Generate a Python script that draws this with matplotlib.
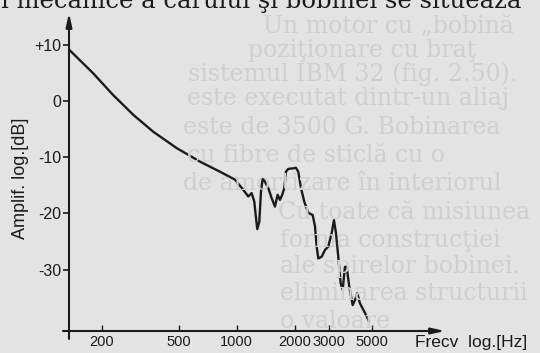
import matplotlib
matplotlib.use("Agg")
import matplotlib.pyplot as plt
from matplotlib.ticker import NullLocator

# --- valores (resposta em frequência) ---
freq_hz = [136, 180, 229, 291, 369, 488, 644, 818, 978, 1080,
           1147, 1194, 1232, 1253, 1277, 1308, 1335, 1362, 1400, 1456,
           1516, 1577, 1628, 1674, 1720, 1763, 1798, 1848, 1962, 2026,
           2083, 2151, 2237, 2347, 2474, 2543, 2594, 2645, 2754, 2865,
           2980, 3103, 3189, 3266, 3357, 3454, 3538, 3636, 3711, 3828,
           3988, 4098, 4212, 4350, 4524, 4712, 4844]
ampl_db = [9.0, 4.9, 1.0, -2.5, -5.5, -8.4, -10.8, -12.6, -14.0, -15.8,
           -17.0, -16.4, -17.9, -20.3, -22.8, -21.5, -16.1, -13.8, -14.4, -15.5,
           -17.3, -18.8, -16.7, -17.6, -16.7, -15.5, -12.6, -12.1, -12.0, -11.9,
           -12.6, -15.5, -17.9, -19.9, -20.3, -22.3, -25.9, -28.0, -27.7, -26.5,
           -25.9, -23.5, -21.2, -23.5, -27.7, -32.4, -33.6, -29.5, -29.5, -33.0,
           -36.3, -35.4, -34.2, -36.0, -37.1, -38.3, -39.2]

y_ticks = [10, 0, -10, -20, -30]
y_tick_labels = ["+10", "0", "-10", "-20", "-30"]
x_ticks = [200, 500, 1000, 2000, 3000, 5000]
x_tick_labels = ["200", "500", "1000", "2000", "3000", "5000"]

# texto da página (fundo esmaecido)
top_line = "i mecanice a carului şi bobinei se situează"
page_lines = [
    "Un motor cu „bobină",
    "poziţionare cu braţ",
    "sistemul IBM 32 (fig. 2.50).",
    "este executat dintr-un aliaj",
    "este de 3500 G. Bobinarea",
    "cu fibre de sticlă cu o",
    "de amortizare în interiorul",
    "Cu toate că misiunea",
    "forma construcţiei",
    "ale spirelor bobinei.",
    "eliminarea structurii",
    "o valoare",
]
page_x = [263, 248, 188, 187, 183, 187, 183, 278, 280, 280, 280, 280]
page_y = [26, 50, 74, 99, 128, 156, 184, 212, 240, 267, 294, 321]

W, H = 540, 353
bg = "#e3e3e3"
ink = "#1b1b1b"
lbl_font = "Liberation Sans"

fig = plt.figure(figsize=(5.4, 3.53), dpi=100, facecolor=bg)

# --- texto de fundo ---
for t, px, py in zip(page_lines, page_x, page_y):
    fig.text(px / W, 1 - py / H, t, ha="left", va="center", fontsize=17,
             family="DejaVu Serif", color="#cfcfcf", zorder=0)
fig.text(1 / W, 1 - 8 / H, top_line, ha="left", va="baseline", fontsize=17.5,
         family="DejaVu Serif", color=ink, zorder=0)

# --- eixo do gráfico ---
ax = fig.add_axes([69 / W, 1 - 331 / H, 376 / W, 318 / H])
ax.set_facecolor("none")
ax.set_xscale("log")
ax.set_xlim(135, 12000)
ax.set_ylim(-40.9, 15.6)

ax.plot(freq_hz, ampl_db, color=ink, lw=1.7, solid_joinstyle="round",
        solid_capstyle="round", zorder=3)

for s in ax.spines.values():
    s.set_visible(False)

# eixos com setas
arrow = dict(arrowstyle="-|>,head_length=0.8,head_width=0.18", lw=1.5,
             color=ink, shrinkA=0, shrinkB=0, mutation_scale=10)
ax.annotate("", xy=(0, 1.0), xytext=(0, -0.025), xycoords="axes fraction",
            arrowprops=arrow)
ax.annotate("", xy=(1.0, 0), xytext=(-0.016, 0), xycoords="axes fraction",
            arrowprops=arrow)

ax.set_yticks(y_ticks, y_tick_labels)
ax.set_xticks(x_ticks, x_tick_labels)
ax.xaxis.set_minor_locator(NullLocator())
ax.tick_params(axis="y", direction="out", length=4, width=1.2, pad=1.5,
               colors=ink, labelsize=11.5)
ax.tick_params(axis="x", direction="in", length=4, width=1.0, pad=3,
               colors=ink, labelsize=10.5)
for lab in ax.get_xticklabels() + ax.get_yticklabels():
    lab.set_family(lbl_font)

fig.text(21 / W, 1 - 178 / H, "Amplif. log.[dB]", rotation=90, ha="center",
         va="center", fontsize=13, family=lbl_font, color=ink)
fig.text(415 / W, 1 - 343 / H, "Frecv  log.[Hz]", ha="left", va="center",
         fontsize=12.5, family=lbl_font, color=ink)

fig.savefig("out.png", dpi=100, facecolor=bg)
